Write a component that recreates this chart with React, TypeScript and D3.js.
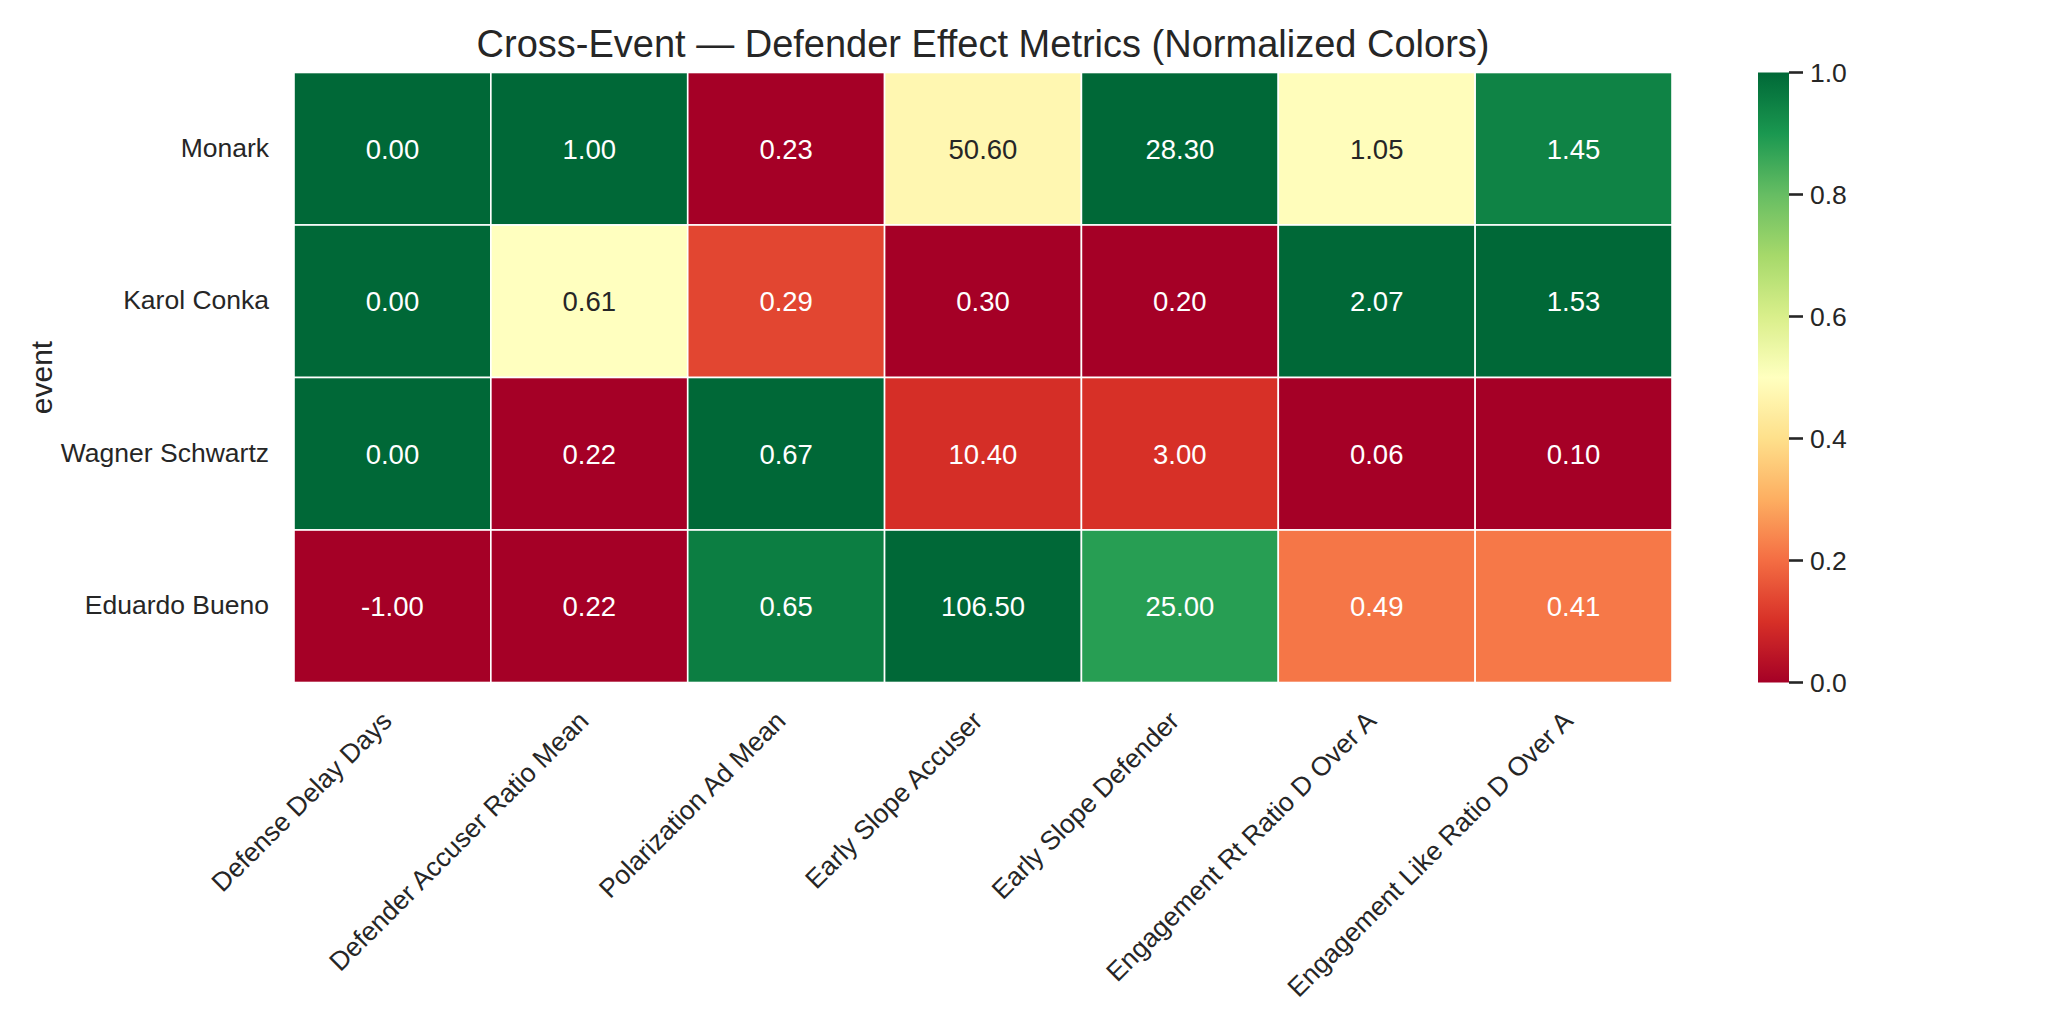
import React from "react";
import * as d3 from "d3";

const events: string[] = ["Monark", "Karol Conka", "Wagner Schwartz", "Eduardo Bueno"];
const metrics: string[] = [
  "Defense Delay Days",
  "Defender Accuser Ratio Mean",
  "Polarization Ad Mean",
  "Early Slope Accuser",
  "Early Slope Defender",
  "Engagement Rt Ratio D Over A",
  "Engagement Like Ratio D Over A",
];
// values[row][col]
const monarkValues: number[] = [0.0, 1.0, 0.23, 50.6, 28.3, 1.05, 1.45];
const karolValues: number[] = [0.0, 0.61, 0.29, 0.3, 0.2, 2.07, 1.53];
const wagnerValues: number[] = [0.0, 0.22, 0.67, 10.4, 3.0, 0.06, 0.1];
const eduardoValues: number[] = [-1.0, 0.22, 0.65, 106.5, 25.0, 0.49, 0.41];
const colorbarTicks: number[] = [0, 0.2, 0.4, 0.6, 0.8, 1.0];
const rdYlGn: string[] = [
  "#a50026", "#d73027", "#f46d43", "#fdae61", "#fee08b", "#ffffbf",
  "#d9ef8b", "#a6d96a", "#66bd63", "#1a9850", "#006837",
];

const values: number[][] = [monarkValues, karolValues, wagnerValues, eduardoValues];

const W = 2048, H = 1024;
const left = 294, right = 1672, top = 72.5, bottom = 682.5;
const cbX = 1758, cbW = 31;
const FONT = "'Liberation Sans', Arial, sans-serif";
const TXT = "#262626";

const color = d3
  .scaleLinear<string>()
  .domain(d3.range(11).map((i) => i / 10))
  .range(rdYlGn)
  .interpolate(d3.interpolateRgb)
  .clamp(true);

function luminance(c: string): number {
  const rgb = d3.rgb(c);
  const lin = (v: number) => {
    const s = v / 255;
    return s <= 0.03928 ? s / 12.92 : Math.pow((s + 0.055) / 1.055, 2.4);
  };
  return 0.2126 * lin(rgb.r) + 0.7152 * lin(rgb.g) + 0.0722 * lin(rgb.b);
}

export default function App() {
  const x = d3.scaleBand<string>().domain(metrics).range([left, right]);
  const y = d3.scaleBand<string>().domain(events).range([top, bottom]);
  const cbY = d3.scaleLinear().domain([0, 1]).range([bottom, top]);

  // per-column min-max normalization
  const colExtents = metrics.map((_, j) => d3.extent(values.map((r) => r[j])) as [number, number]);
  const norm = (i: number, j: number) => {
    const [mn, mx] = colExtents[j];
    return mx === mn ? 0.5 : (values[i][j] - mn) / (mx - mn);
  };

  const stops = d3.range(0, 1.0001, 0.02);

  return (
    <svg width={W} height={H} style={{ position: "absolute", left: 0, top: 0, background: "#fff" }} fontFamily={FONT}>
      <defs>
        <linearGradient id="cbgrad" x1="0" y1="1" x2="0" y2="0">
          {stops.map((s) => (
            <stop key={s} offset={s} stopColor={color(s)} />
          ))}
        </linearGradient>
      </defs>
      <rect x={0} y={0} width={W} height={H} fill="#fff" />
      <text x={(left + right) / 2} y={57} textAnchor="middle" fontSize={38} fill={TXT}>
        Cross-Event — Defender Effect Metrics (Normalized Colors)
      </text>
      {events.map((ev, i) =>
        metrics.map((m, j) => {
          const c = color(norm(i, j));
          const tc = luminance(c) > 0.408 ? TXT : "#ffffff";
          const cx = (x(m) as number) + x.bandwidth() / 2;
          const cy = (y(ev) as number) + y.bandwidth() / 2;
          return (
            <g key={ev + m}>
              <rect
                x={x(m)}
                y={y(ev)}
                width={x.bandwidth()}
                height={y.bandwidth()}
                fill={c}
                stroke="#ffffff"
                strokeWidth={1.6}
              />
              <text x={cx} y={cy} dy="0.36em" textAnchor="middle" fontSize={27.5} fill={tc}>
                {values[i][j].toFixed(2)}
              </text>
            </g>
          );
        })
      )}
      {events.map((ev) => (
        <text
          key={ev}
          x={269}
          y={(y(ev) as number) + y.bandwidth() / 2}
          dy="0.3em"
          textAnchor="end"
          fontSize={26.5}
          fill={TXT}
        >
          {ev}
        </text>
      ))}
      {metrics.map((m) => {
        const px = (x(m) as number) + x.bandwidth() / 2 + 1;
        const py = bottom + 40;
        return (
          <text
            key={m}
            x={px}
            y={py}
            transform={`rotate(-45 ${px} ${py})`}
            textAnchor="end"
            fontSize={26.5}
            fill={TXT}
          >
            {m}
          </text>
        );
      })}
      <text
        x={52}
        y={(top + bottom) / 2}
        transform={`rotate(-90 52 ${(top + bottom) / 2})`}
        textAnchor="middle"
        fontSize={30}
        fill={TXT}
      >
        event
      </text>
      <rect x={cbX} y={top} width={cbW} height={bottom - top} fill="url(#cbgrad)" />
      {colorbarTicks.map((t) => (
        <g key={t}>
          <line x1={cbX + cbW} x2={cbX + cbW + 14} y1={cbY(t)} y2={cbY(t)} stroke={TXT} strokeWidth={2.6} />
          <text x={cbX + cbW + 21} y={cbY(t)} dy="0.36em" fontSize={26.5} fill={TXT}>
            {t.toFixed(1)}
          </text>
        </g>
      ))}
    </svg>
  );
}
